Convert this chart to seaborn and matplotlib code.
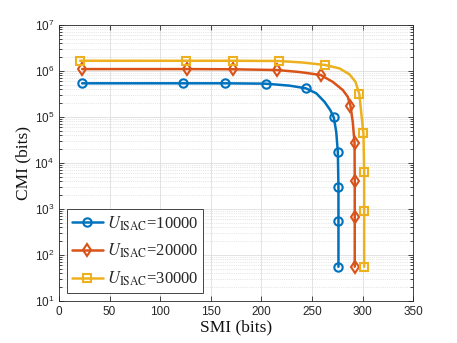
import matplotlib
matplotlib.use("Agg")
import matplotlib.pyplot as plt
import matplotlib.ticker as mticker
import numpy as np
import pandas as pd
import seaborn as sns

# ── Data (SMI in bits, CMI in bits) ────────────────────────────────────────
LABELS = ["10000", "20000", "30000"]

SMI_10K = [22.9, 122.4, 163.8, 204.3, 227.9, 244.0, 254.3, 262.4, 268.1, 271.6, 274.0, 275.6, 276.2, 276.2, 276.2]
CMI_10K = [5.4e5, 5.4e5, 5.4e5, 5.3e5, 4.8e5, 4.2e5, 3.27e5, 2.14e5, 1.41e5, 9.8e4, 4.76e4, 1.72e4, 3.0e3, 551, 55]

SMI_20K = [22.9, 126.7, 172.0, 215.4, 237.8, 258.5, 270.6, 280.5, 285.4, 288.1, 290.3, 292.1, 292.3, 292.3, 292.3]
CMI_20K = [1.10e6, 1.10e6, 1.09e6, 1.05e6, 9.5e5, 8.2e5, 5.8e5, 3.85e5, 2.75e5, 1.75e5, 7.9e4, 2.75e4, 4.1e3, 653, 55]

SMI_30K = [20.9, 125.4, 172.4, 217.4, 240.8, 263.1, 277.2, 287.1, 293.0, 296.9, 298.6, 300.9, 301.6, 301.6, 301.6]
CMI_30K = [1.67e6, 1.67e6, 1.67e6, 1.65e6, 1.53e6, 1.35e6, 1.14e6, 8.45e5, 5.83e5, 3.1e5, 1.30e5, 4.4e4, 6.2e3, 896, 55]

# which of the points above carry a marker
MARK_IDX = [0, 1, 2, 3, 5, 9, 11, 12, 13, 14]

COLORS  = ["#0072BD", "#D95319", "#EDB120"]
MARKERS = ["o", "d", "s"]
MSIZES  = [6.0, 6.5, 6.0]

sns.set_theme(style="ticks")
plt.rcParams.update({
    "font.family": ["Liberation Sans", "DejaVu Sans"],
    "mathtext.fontset": "stix",
    "axes.edgecolor": "#262626",
    "xtick.color": "#262626",
    "ytick.color": "#262626",
    "xtick.direction": "in",
    "ytick.direction": "in",
})

fig = plt.figure(figsize=(4.57, 3.43), dpi=100)
ax = fig.add_axes([0.129, 0.123, 0.775, 0.804])

series = [(SMI_10K, CMI_10K), (SMI_20K, CMI_20K), (SMI_30K, CMI_30K)]
for (smi, cmi), lab, col, mk, ms in zip(series, LABELS, COLORS, MARKERS, MSIZES):
    df = pd.DataFrame({"SMI": smi, "CMI": cmi})
    sns.lineplot(
        data=df, x="SMI", y="CMI", ax=ax, sort=False, estimator=None,
        color=col, lw=1.8, marker=mk, markevery=MARK_IDX, markersize=ms,
        markerfacecolor="none", markeredgecolor=col, markeredgewidth=1.5,
        label=r"$U_{\rm ISAC}$=" + lab,
    )

ax.set_yscale("log")
ax.set_xlim(0, 350)
ax.set_ylim(1e1, 1e7)
ax.set_xticks(np.arange(0, 351, 50))
ax.yaxis.set_major_locator(mticker.LogLocator(base=10, numticks=10))
ax.yaxis.set_minor_locator(mticker.LogLocator(base=10, subs=np.arange(2, 10), numticks=20))
ax.yaxis.set_minor_formatter(mticker.NullFormatter())
ax.tick_params(which="both", top=True, right=True, labelsize=8.5, width=0.6)
ax.tick_params(which="major", length=3.5)
ax.tick_params(which="minor", length=2)
for s in ax.spines.values():
    s.set_linewidth(0.6)

ax.grid(which="major", color="#dedede", lw=0.6, ls="-")
ax.grid(which="minor", axis="y", color="#d0d0d0", lw=0.5, ls=":")
ax.set_axisbelow(True)

ax.set_xlabel("SMI (bits)", family="Liberation Serif", fontsize=12.5, color="#111111", labelpad=1)
ax.set_ylabel("CMI (bits)", family="Liberation Serif", fontsize=12.5, color="#111111", labelpad=2)

leg = ax.legend(loc="lower left", bbox_to_anchor=(0.022, 0.029), borderaxespad=0,
                prop={"family": "Liberation Serif", "size": 12}, handlelength=1.85,
                handletextpad=0.25, labelspacing=0.55, borderpad=0.3, fancybox=False,
                framealpha=1, edgecolor="#262626")
leg.get_frame().set_linewidth(0.6)

fig.savefig("out.png", dpi=100)
